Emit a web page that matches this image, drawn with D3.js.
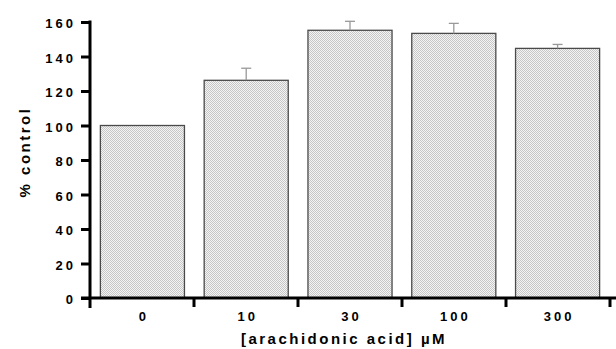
<!DOCTYPE html>
<html>
<head>
<meta charset="utf-8">
<script src="https://cdn.jsdelivr.net/npm/d3@7/dist/d3.min.js"></script>
<style>
  html, body { margin: 0; padding: 0; background: #fff; }
  text { font-family: "Liberation Sans", Arial, sans-serif; font-weight: bold; fill: #000; }
</style>
</head>
<body>
<svg id="chart" width="616" height="349"></svg>
<script>
const categories = ["0", "10", "30", "100", "300"];
const values = [100, 126.2, 155.2, 153.4, 144.7];
const errors = [0, 7.0, 5.2, 5.8, 2.3];
const yTicks = [0, 20, 40, 60, 80, 100, 120, 140, 160];
const xLabel = "[arachidonic acid] µM";
const yLabel = "% control";

const svg = d3.select("#chart");
const x0 = 90, x1 = 610, yTop = 22, yBot = 298;

const defs = svg.append("defs");
const pat = defs.append("pattern").attr("id", "stip")
  .attr("patternUnits", "userSpaceOnUse").attr("width", 2).attr("height", 2);
pat.append("rect").attr("width", 2).attr("height", 2).attr("fill", "#f4f4f4");
pat.append("rect").attr("x", 0).attr("y", 0).attr("width", 1).attr("height", 1).attr("fill", "#c6c6c6");
pat.append("rect").attr("x", 1).attr("y", 1).attr("width", 1).attr("height", 1).attr("fill", "#c6c6c6");

const x = d3.scaleBand().domain(categories).range([x0, x1]).paddingInner(0.19).paddingOuter(0.1);
const y = d3.scaleLinear().domain([0, 160]).range([yBot, yTop]);

// bars
svg.append("g").selectAll("rect").data(categories).join("rect")
  .attr("x", d => x(d))
  .attr("y", (d, i) => y(values[i]))
  .attr("width", x.bandwidth())
  .attr("height", (d, i) => yBot - y(values[i]))
  .attr("fill", "url(#stip)")
  .attr("stroke", "#4a4a4a")
  .attr("stroke-width", 1.3);

// error bars
const eg = svg.append("g").attr("stroke", "#999").attr("stroke-width", 1.3);
categories.forEach((c, i) => {
  if (!errors[i]) return;
  const cx = x(c) + x.bandwidth() / 2;
  eg.append("line").attr("x1", cx).attr("x2", cx).attr("y1", y(values[i])).attr("y2", y(values[i] + errors[i]));
  eg.append("line").attr("x1", cx - 5).attr("x2", cx + 5).attr("y1", y(values[i] + errors[i])).attr("y2", y(values[i] + errors[i]));
});

// y axis
const yAxis = d3.axisLeft(y).tickValues(yTicks).tickSize(9).tickPadding(8);
const gy = svg.append("g").attr("transform", `translate(${x0},0)`).call(yAxis);
gy.select(".domain").remove();
gy.selectAll(".tick line").attr("stroke", "#000").attr("stroke-width", 3);
gy.selectAll(".tick text").style("font-size", "13px").style("letter-spacing", "3px")
  .attr("dx", "3px").attr("dy", "0.45em");
svg.append("line").attr("x1", x0).attr("x2", x0).attr("y1", yTop - 1.5).attr("y2", yBot + 10)
  .attr("stroke", "#000").attr("stroke-width", 3);

// x axis
const xBoundary = d3.scaleLinear().domain([0, categories.length]).range([x0, x1]);
const gx = svg.append("g").attr("transform", `translate(0,${yBot})`);
gx.append("line").attr("x1", x0 - 9).attr("x2", 616).attr("y1", 0).attr("y2", 0)
  .attr("stroke", "#000").attr("stroke-width", 3);
gx.selectAll("line.tk").data(d3.range(1, categories.length + 1)).join("line").attr("class", "tk")
  .attr("x1", d => xBoundary(d)).attr("x2", d => xBoundary(d))
  .attr("y1", 0).attr("y2", 9).attr("stroke", "#000").attr("stroke-width", 3);
gx.selectAll("text").data(categories).join("text")
  .attr("x", d => x(d) + x.bandwidth() / 2)
  .attr("y", 23)
  .attr("dx", "1.5px")
  .attr("text-anchor", "middle")
  .style("font-size", "13px").style("letter-spacing", "3px")
  .text(d => d);

// axis labels
svg.append("text").attr("x", 344).attr("y", 344).attr("text-anchor", "middle")
  .style("font-size", "15px").style("letter-spacing", "2.5px").text(xLabel);
svg.append("text").attr("transform", "translate(30,152) rotate(-90)").attr("text-anchor", "middle")
  .style("font-size", "15px").style("letter-spacing", "2.5px").text(yLabel);
</script>
</body>
</html>
